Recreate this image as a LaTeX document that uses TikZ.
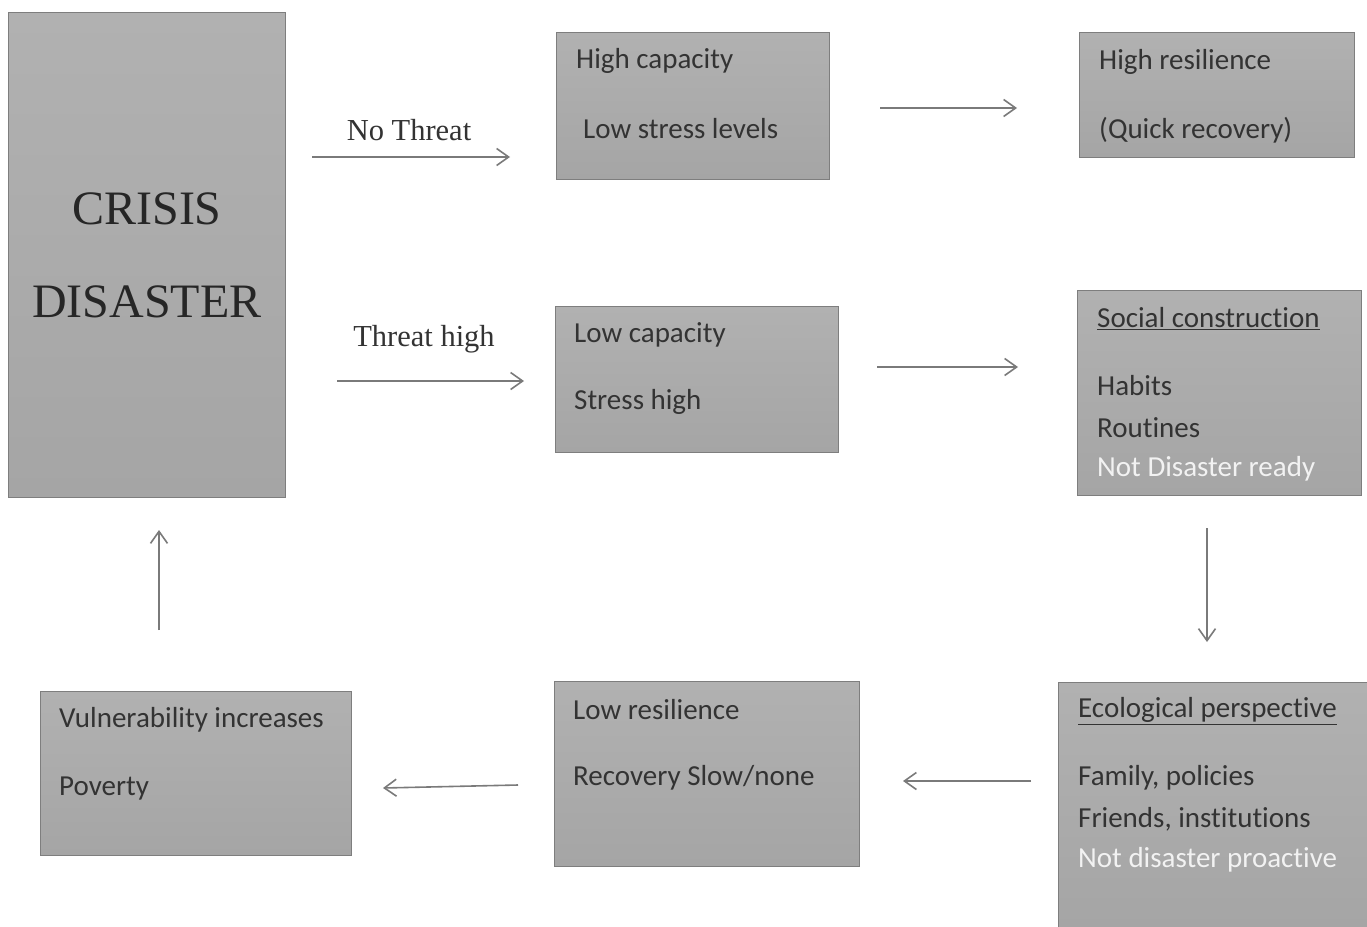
\documentclass[tikz,border=0pt]{standalone}
\usepackage{fontspec}
\setmainfont[Ligatures=NoCommon]{Carlito}
\newfontfamily\timesf{Liberation Serif}
\usetikzlibrary{arrows.meta}
\definecolor{boxtop}{HTML}{B1B1B1}
\definecolor{boxbot}{HTML}{A5A5A5}
\definecolor{boxedge}{HTML}{7E7E7E}
\definecolor{txt}{HTML}{333333}
\definecolor{wtxt}{HTML}{F2F2F2}
\definecolor{arr}{HTML}{7A7A7A}
\tikzset{
  box/.style={draw=boxedge, line width=1.3pt, top color=boxtop, bottom color=boxbot, inner sep=0pt, anchor=north west},
  line/.style={anchor=west, inner sep=0pt, text=txt, font=\fontsize{29}{33}\selectfont},
  wline/.style={line, text=wtxt},
  lbl/.style={inner sep=0pt, text=txt, font=\timesf\fontsize{30.5}{34}\selectfont},
  big/.style={inner sep=0pt, text=black!85, font=\timesf\fontsize{48}{52}\selectfont},
  flow/.style={draw=arr, line width=1.6pt, -{Straight Barb[length=12pt,width=17pt,line width=1.6pt]}}
}
\begin{document}
\begin{tikzpicture}[x=1pt,y=-1pt]
\useasboundingbox[fill=white] (0,0) rectangle (1367,926);
% boxes
\node[box, minimum width=277pt, minimum height=485pt] (crisis) at (8,12) {};
\node[box, minimum width=273pt, minimum height=147pt] (hcap) at (556,32) {};
\node[box, minimum width=275pt, minimum height=125pt] (hres) at (1079,32) {};
\node[box, minimum width=283pt, minimum height=146pt] (lcap) at (555,306) {};
\node[box, minimum width=284pt, minimum height=205pt] (soc) at (1077,290) {};
\node[box, minimum width=311pt, minimum height=164pt] (vul) at (40,691) {};
\node[box, minimum width=305pt, minimum height=185pt] (lres) at (554,681) {};
\node[box, minimum width=309pt, minimum height=246pt] (eco) at (1058,682) {};
% texts
\node[big] (t-crisis) at (147,209) {CRISIS};
\node[big] (t-disaster) at (147,302) {DISASTER};
\node[line] (t-hcap1) at (576,61) {High capacity};
\node[line] (t-hcap2) at (583,129) {Low stress levels};
\node[line] (t-hres1) at (1099,62) {High resilience};
\node[line] (t-hres2) at (1099,130) {(Quick recovery)};
\node[line] (t-lcap1) at (574,335) {Low capacity};
\node[line] (t-lcap2) at (574,402) {Stress high};
\node[line] (t-soc1) at (1097,319) {\underline{Social construction}};
\node[line] (t-soc2) at (1097,386) {Habits};
\node[line] (t-soc3) at (1097,428) {Routines};
\node[wline] (t-soc4) at (1097,469) {Not Disaster ready};
\node[line] (t-vul1) at (59,720) {Vulnerability increases};
\node[line] (t-vul2) at (59,789) {Poverty};
\node[line] (t-lres1) at (573,710) {Low resilience};
\node[line] (t-lres2) at (573,778) {Recovery Slow/none};
\node[line] (t-eco1) at (1078,711) {\underline{Ecological perspective}};
\node[line] (t-eco2) at (1078,778) {Family, policies};
\node[line] (t-eco3) at (1078,819) {Friends, institutions};
\node[wline] (t-eco4) at (1078,860) {Not disaster proactive};
\node[lbl] (l-no) at (409,130) {No Threat};
\node[lbl] (l-high) at (424,339) {Threat high};
% arrow end points
\coordinate (a1s) at (312,157); \coordinate (a1e) at (510,157);
\coordinate (a2s) at (880,108); \coordinate (a2e) at (1017,108);
\coordinate (a3s) at (337,381); \coordinate (a3e) at (524,381);
\coordinate (a4s) at (877,367); \coordinate (a4e) at (1018,367);
\coordinate (a5s) at (1207,528); \coordinate (a5e) at (1207,642);
\coordinate (a6s) at (1031,781); \coordinate (a6e) at (903,781);
\coordinate (a7s) at (518,785); \coordinate (a7e) at (383,788);
\coordinate (a8s) at (159,630); \coordinate (a8e) at (159,530);
\draw[flow] (a1s) -- (a1e);
\draw[flow] (a2s) -- (a2e);
\draw[flow] (a3s) -- (a3e);
\draw[flow] (a4s) -- (a4e);
\draw[flow] (a5s) -- (a5e);
\draw[flow] (a6s) -- (a6e);
\draw[flow] (a7s) -- (a7e);
\draw[flow] (a8s) -- (a8e);
\end{tikzpicture}
\end{document}
